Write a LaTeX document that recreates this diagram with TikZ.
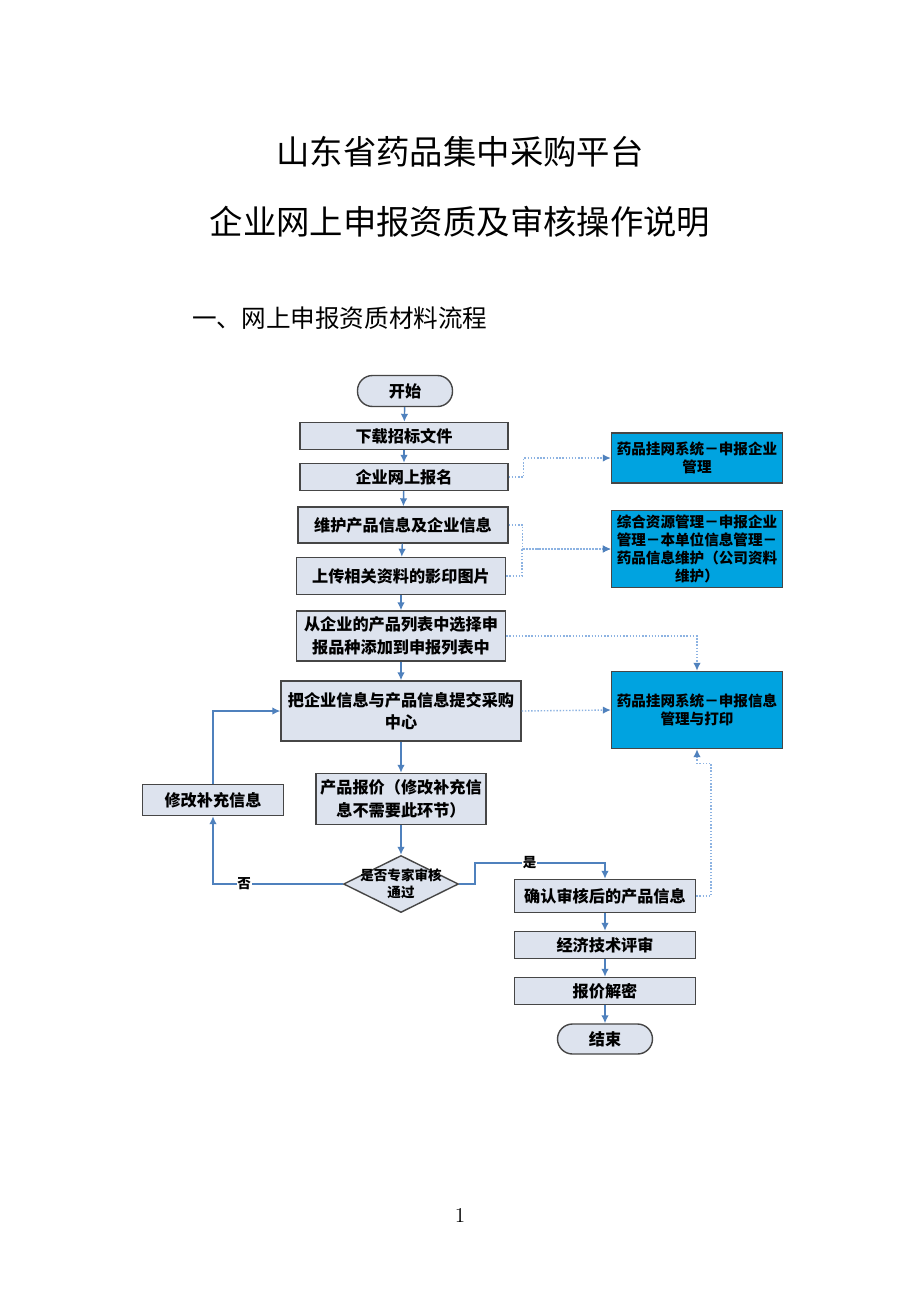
\documentclass[tikz,border=0pt]{standalone}
\usepackage{fontspec}
\newfontfamily\cjk{Noto Sans CJK SC}
\usetikzlibrary{arrows.meta,positioning,shapes.geometric}
\definecolor{boxgray}{RGB}{221,227,238}
\definecolor{boxline}{RGB}{70,70,70}
\definecolor{sysblue}{RGB}{0,163,224}
\definecolor{flowblue}{RGB}{79,129,189}
\definecolor{dotblue}{RGB}{141,179,226}

\begin{document}
\begin{tikzpicture}[
    x=0.02cm, y=-0.02cm,
    stepbox/.style={rectangle,draw=boxline,fill=boxgray,line width=0.8pt,inner sep=0pt,
                    align=center,font=\cjk\bfseries\fontsize{9.2}{12.8}\selectfont},
    sysbox/.style={stepbox,fill=sysblue,minimum width=3.42cm,
                   font=\cjk\bfseries\fontsize{8.3}{10.2}\selectfont},
    termbox/.style={stepbox,rounded corners=3mm,minimum width=1.9cm},
    decision/.style={diamond,draw=boxline,fill=boxgray,line width=0.8pt,inner sep=0pt,
                     minimum width=2.3cm,minimum height=1.14cm},
    flow/.style={-{Latex[length=1.6mm,width=1.5mm]},draw=flowblue,line width=0.8pt},
    link/.style={-{Latex[length=1.6mm,width=1.5mm,color=flowblue]},draw=dotblue,
                 line width=0.8pt,densely dotted},
    tag/.style={font=\cjk\bfseries\fontsize{7.7}{9.5}\selectfont,fill=white,inner sep=0.5pt}
]
    \useasboundingbox[fill=white] (0,0) rectangle (920,1302);

    \node[font=\cjk\fontsize{19}{22}\selectfont] (title) at (460,152) {山东省药品集中采购平台};
    \node[font=\cjk\fontsize{19}{22}\selectfont] (subtitle) at (460,222) {企业网上申报资质及审核操作说明};
    \node[font=\cjk\fontsize{14}{16}\selectfont,anchor=west,inner sep=0pt] (section) at (192,318) {一、网上申报资质材料流程};

    \node[termbox,minimum height=0.62cm] (start) at (405,391) {开始};
    \node[stepbox,minimum width=4.16cm,minimum height=0.54cm] (download) at (404,436) {下载招标文件};
    \node[stepbox,minimum width=4.16cm,minimum height=0.54cm] (register) at (404,477) {企业网上报名};
    \node[stepbox,minimum width=4.2cm,minimum height=0.72cm] (maintain) at (403,525) {维护产品信息及企业信息};
    \node[stepbox,minimum width=4.18cm,minimum height=0.74cm] (upload) at (401,576) {上传相关资料的影印图片};
    \node[stepbox,minimum width=4.18cm,minimum height=1.0cm] (select) at (401,636) {从企业的产品列表中选择申\\报品种添加到申报列表中};
    \node[stepbox,minimum width=4.8cm,minimum height=1.2cm] (submit) at (401,711) {把企业信息与产品信息提交采购\\中心};
    \node[stepbox,minimum width=3.4cm,minimum height=1.02cm] (quote) at (401,799) {产品报价（修改补充信\\息不需要此环节）};
    \node[stepbox,minimum width=2.82cm,minimum height=0.62cm] (revise) at (213,800) {修改补充信息};
    \node[decision,label={[tag,fill=none,align=center]center:{是否专家审核\\通过}}] (check) at (401,884) {};
    \node[stepbox,minimum width=3.62cm,minimum height=0.66cm] (confirm) at (605,896) {确认审核后的产品信息};
    \node[stepbox,minimum width=3.62cm,minimum height=0.54cm] (review) at (605,945) {经济技术评审};
    \node[stepbox,minimum width=3.62cm,minimum height=0.54cm] (decrypt) at (605,991) {报价解密};
    \node[termbox,minimum height=0.6cm] (finish) at (605,1039) {结束};

    \node[sysbox,minimum height=1.0cm] (sysreg) at (697,458) {药品挂网系统－申报企业\\管理};
    \node[sysbox,minimum height=1.54cm] (sysinfo) at (697,549) {综合资源管理－申报企业\\管理－本单位信息管理－\\药品信息维护（公司资料\\维护）};
    \node[sysbox,minimum height=1.54cm] (sysprint) at (697,710) {药品挂网系统－申报信息\\管理与打印};

    \draw[flow] (start) -- (download);
    \draw[flow] (download) -- (register);
    \draw[flow] (register) -- (maintain);
    \draw[flow] (maintain) -- (upload);
    \draw[flow] (upload) -- (select);
    \draw[flow] (select) -- (submit);
    \draw[flow] (submit) -- (quote);
    \draw[flow] (quote) -- (check);
    \draw[flow] (check.west) -| (revise.south) node[tag,pos=0.38] {否};
    \draw[flow] (revise.north) |- (submit.west);
    \draw[flow] (check.east) -- ++(16,0) |- ([yshift=0.32cm]confirm.north) node[tag,pos=0.71] {是} -- (confirm.north);
    \draw[flow] (confirm) -- (review);
    \draw[flow] (review) -- (decrypt);
    \draw[flow] (decrypt) -- (finish);

    \draw[link] (register.east) -- ++(15,0) |- (sysreg.west);
    \draw[link] (maintain.east) -- ++(14,0) |- (sysinfo.west);
    \draw[link] (upload.east) -- ++(16,0) |- (sysinfo.west);
    \draw[link] (select.east) -| (sysprint.north);
    \draw[link] (submit.east) -- (sysprint.west);
    \draw[link] (confirm.east) -- ++(15,0) |- ([yshift=-0.28cm]sysprint.south) -- (sysprint.south);

    \node[font=\fontsize{12}{14}\selectfont] (page) at (460,1215) {1};
\end{tikzpicture}
\end{document}
